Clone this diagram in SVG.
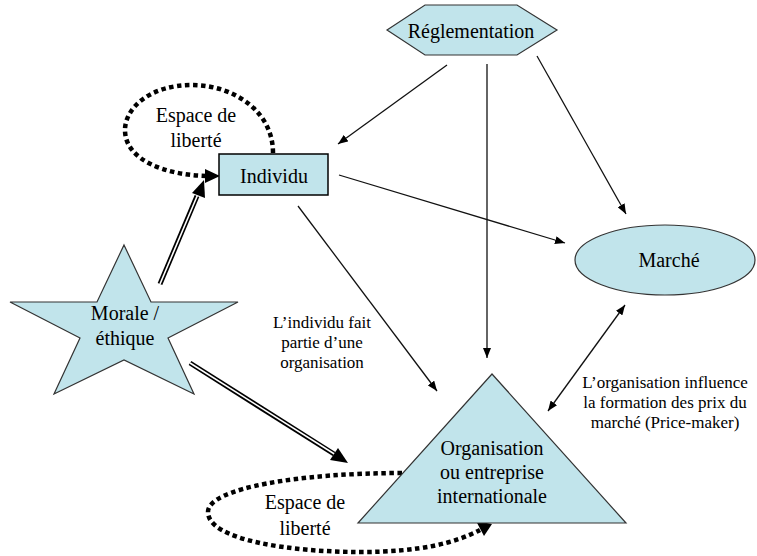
<svg xmlns="http://www.w3.org/2000/svg" width="757" height="556" viewBox="0 0 757 556" font-family="Liberation Serif, DejaVu Serif, serif">
<style>
.node{fill:#C1E4EB;stroke:#333;stroke-width:1.2}
text{text-anchor:middle;fill:#000}
.thin{fill:none;stroke:#111;stroke-width:1.3}
.dot{fill:none;stroke:#000;stroke-width:4.5;stroke-dasharray:4.5 3.5}
.dblout{fill:none;stroke:#000;stroke-width:5}
.dblin{fill:none;stroke:#fff;stroke-width:1.6}
</style>
<defs>
<marker id="a" viewBox="0 0 10 8" refX="10" refY="4" markerWidth="10" markerHeight="8" markerUnits="userSpaceOnUse" orient="auto-start-reverse">
<path d="M0,0 L10,4 L0,8 Z" fill="#000"/>
</marker>
</defs>
<rect width="757" height="556" fill="#fff"/>
<g id="connectors">
<line class="thin" x1="447" y1="65" x2="338" y2="144" marker-end="url(#a)"/>
<line class="thin" x1="487" y1="64" x2="487" y2="358" marker-end="url(#a)"/>
<line class="thin" x1="537" y1="56" x2="626" y2="214" marker-end="url(#a)"/>
<line class="thin" x1="339" y1="175" x2="565" y2="243" marker-end="url(#a)"/>
<line class="thin" x1="298" y1="206" x2="437" y2="391" marker-end="url(#a)"/>
<line class="thin" x1="625" y1="305" x2="548" y2="411" marker-start="url(#a)" marker-end="url(#a)"/>
<path class="dot" d="M273,153 C273,110 232,85 192,85 C150,85 125,108 125,130 C125,160 165,175 207,176"/>
<path d="M205,169 L220,176 L205,183 Z" fill="#000"/>
<path class="dot" d="M402,473 C300,473 208,488 208,512 C208,540 290,552 360,552 C420,552 455,543 480,530"/>
<path d="M476,521 L492,524 L484,536 Z" fill="#000"/>
<line class="dblout" x1="160" y1="284" x2="197" y2="196"/>
<line class="dblin" x1="160" y1="284" x2="198" y2="194"/>
<path d="M192,193 L204,180 L205,198 Z" fill="#000"/>
<line class="dblout" x1="190" y1="363" x2="334" y2="454"/>
<line class="dblin" x1="190" y1="363" x2="336" y2="455"/>
<path d="M330,460 L348,463 L338,448 Z" fill="#000"/>
</g>
<g id="reglementation">
<polygon class="node" points="387,30 425,5 517,5 557,30 517,55 425,55"/>
<text x="471" y="38" font-family="Liberation Serif, DejaVu Serif, serif" font-size="20">Réglementation</text>
</g>
<g id="individu">
<rect x="219" y="154" width="109" height="41" fill="#C1E4EB" stroke="#000" stroke-width="1.5"/>
<text x="274" y="183" font-family="Liberation Serif, DejaVu Serif, serif" font-size="20">Individu</text>
</g>
<g id="espace1" font-family="Liberation Serif, DejaVu Serif, serif" font-size="20">
<text x="196" y="122">Espace de</text>
<text x="196" y="147">liberté</text>
</g>
<g id="morale">
<polygon class="node" points="124,245 151,302 238,302 168,338 194,394 124,360 54,394 80,338 10,302 97,302"/>
<text x="125" y="320" font-family="Liberation Serif, DejaVu Serif, serif" font-size="20">Morale /</text>
<text x="125" y="345" font-family="Liberation Serif, DejaVu Serif, serif" font-size="20">éthique</text>
</g>
<g id="marche">
<ellipse class="node" cx="665" cy="260" rx="90" ry="35"/>
<text x="669" y="267" font-family="Liberation Serif, DejaVu Serif, serif" font-size="20">Marché</text>
</g>
<g id="organisation" font-family="Liberation Serif, DejaVu Serif, serif" font-size="20">
<polygon class="node" points="492,374 626,523 358,523"/>
<text x="492" y="455">Organisation</text>
<text x="492" y="479">ou entreprise</text>
<text x="492" y="503">internationale</text>
</g>
<g id="espace2" font-family="Liberation Serif, DejaVu Serif, serif" font-size="20">
<text x="305" y="509">Espace de</text>
<text x="305" y="535">liberté</text>
</g>
<g id="label-individu" font-family="Liberation Serif, DejaVu Serif, serif" font-size="17">
<text x="322" y="328">L’individu fait</text>
<text x="322" y="348">partie d’une</text>
<text x="322" y="368">organisation</text>
</g>
<g id="label-organisation" font-family="Liberation Serif, DejaVu Serif, serif" font-size="17">
<text x="665" y="388">L’organisation influence</text>
<text x="665" y="408">la formation des prix du</text>
<text x="665" y="428">marché (Price-maker)</text>
</g>
</svg>
